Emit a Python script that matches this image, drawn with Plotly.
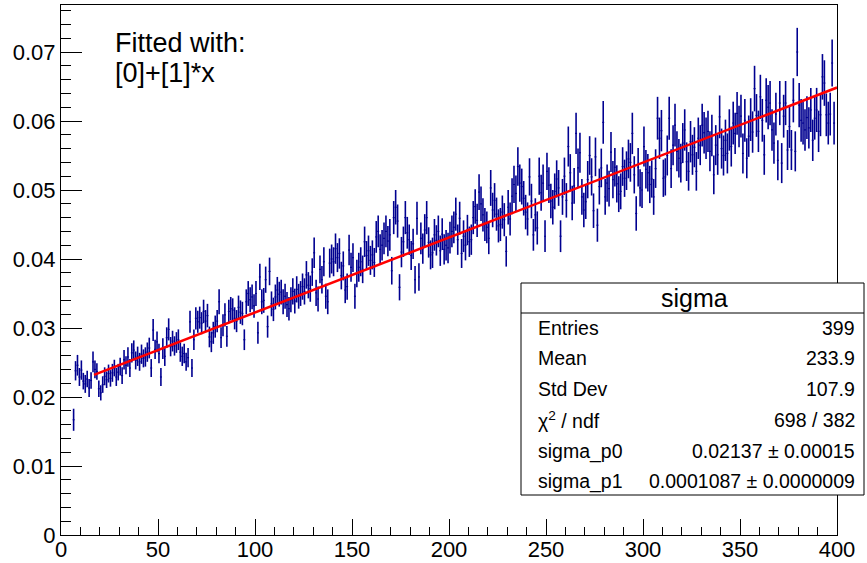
import plotly.graph_objects as go

# Bin contents of the "sigma" histogram (units of 1e-3), unit-width bins starting at [6, 7)
sigma_milli = [
    16.7, 23.8, 24.6, 22.9, 23.9, 22.3, 21.9, 22.6, 21.3, 22.4,
    25.1, 24.0, 23.7, 21.2, 20.6, 21.8, 23.0, 22.5, 23.4, 22.7,
    23.5, 24.2, 22.9, 23.6, 24.4, 23.1, 25.4, 24.6, 25.8, 24.2,
    26.4, 26.8, 25.3, 25.9, 25.1, 26.2, 25.6, 25.8, 26.5, 27.1,
    24.2, 29.7, 26.9, 28.0, 26.3, 22.9, 27.0, 25.9, 28.6, 29.8,
    27.3, 28.1, 27.4, 27.9, 28.3, 26.5, 25.9, 26.3, 25.1, 25.7,
    30.9, 24.2, 28.3, 31.4, 30.9, 31.5, 30.7, 32.4, 31.0, 31.8,
    28.7, 28.0, 29.3, 30.2, 31.0, 33.8, 28.6, 30.4, 31.9, 28.8,
    32.4, 32.8, 32.6, 31.4, 31.0, 33.0, 32.3, 32.1, 28.3, 33.8,
    35.0, 34.1, 34.5, 33.2, 35.0, 29.3, 37.4, 33.8, 34.0, 37.0,
    30.2, 38.2, 33.5, 32.7, 34.5, 35.5, 34.9, 35.2, 33.8, 34.6,
    33.4, 32.8, 34.1, 35.3, 33.9, 35.6, 34.6, 35.0, 36.0, 35.3,
    37.7, 36.2, 35.7, 38.1, 40.9, 35.1, 34.2, 38.5, 37.0, 39.6,
    34.6, 33.8, 39.4, 40.0, 39.6, 41.5, 40.2, 40.8, 37.6, 39.0,
    35.5, 36.0, 41.3, 38.8, 40.2, 34.6, 37.9, 38.8, 39.6, 38.5,
    42.5, 40.5, 41.2, 39.8, 40.6, 39.5, 43.2, 44.0, 41.4, 42.0,
    43.0, 44.0, 42.6, 43.5, 38.3, 46.0, 47.5, 45.5, 35.9, 41.0,
    42.5, 46.0, 43.8, 42.8, 40.5, 42.2, 37.0, 45.9, 37.4, 43.0,
    41.5, 44.2, 46.0, 42.4, 40.6, 40.9, 43.5, 42.7, 44.0, 41.2,
    43.6, 41.4, 42.0, 41.6, 43.1, 44.0, 44.6, 46.5, 42.8, 45.9,
    40.8, 43.3, 42.0, 44.2, 42.5, 42.8, 46.0, 47.6, 45.6, 49.7,
    48.0, 46.4, 45.0, 44.6, 43.0, 50.3, 47.1, 48.5, 46.5, 44.8,
    45.0, 46.8, 45.7, 41.1, 47.5, 45.8, 49.1, 50.8, 49.5, 53.4,
    51.0, 50.5, 48.8, 46.8, 45.8, 51.9, 48.4, 43.5, 46.4, 44.5,
    52.0, 49.6, 51.0, 43.3, 52.7, 50.7, 48.4, 47.5, 49.8, 51.6,
    50.3, 43.3, 49.0, 52.0, 48.5, 56.3, 52.5, 48.1, 50.6, 58.2,
    53.2, 55.4, 49.0, 47.1, 48.3, 51.5, 55.0, 51.9, 47.0, 54.8,
    44.9, 50.5, 53.2, 59.8, 49.0, 51.0, 50.2, 55.5, 51.5, 53.3,
    50.9, 49.4, 49.8, 53.4, 51.7, 52.8, 54.5, 54.0, 58.2, 52.2,
    46.6, 53.3, 50.3, 50.0, 56.3, 53.0, 52.5, 50.8, 51.6, 49.0,
    53.1, 60.4, 57.5, 58.6, 51.7, 51.9, 55.0, 60.4, 53.1, 56.5,
    59.4, 55.6, 54.6, 53.9, 56.8, 58.7, 54.1, 52.7, 57.0, 55.1,
    56.2, 52.7, 57.5, 56.5, 59.4, 58.3, 57.5, 58.5, 55.6, 57.9,
    52.2, 56.5, 55.1, 60.6, 56.0, 55.0, 57.2, 55.3, 58.7, 56.3,
    59.7, 58.2, 61.1, 59.2, 60.7, 55.3, 60.1, 54.6, 57.8, 60.2,
    58.4, 64.7, 60.8, 58.5, 63.5, 60.1, 55.1, 63.0, 62.0, 62.6,
    58.7, 56.8, 61.0, 54.3, 62.6, 53.9, 60.7, 62.6, 55.8, 59.2,
    55.8, 63.0, 55.6, 70.0, 62.3, 60.1, 59.7, 58.7, 60.5, 59.0,
    61.6, 57.2, 60.4, 61.6, 58.5, 60.9, 66.4, 65.5, 60.9, 59.7,
    61.0, 68.4, 59.7,
]

# Bin errors (units of 1e-4)
sigma_err_e4 = [
    16, 14, 15, 13, 14, 12, 13, 12, 13, 12,
    15, 13, 12, 12, 11, 12, 13, 12, 13, 12,
    13, 12, 13, 12, 13, 12, 14, 13, 14, 13,
    14, 14, 13, 14, 13, 14, 13, 14, 14, 15,
    13, 16, 14, 15, 14, 13, 15, 14, 15, 16,
    14, 15, 14, 15, 15, 14, 14, 14, 13, 14,
    16, 13, 15, 16, 16, 16, 16, 17, 16, 17,
    15, 15, 16, 16, 16, 18, 15, 16, 17, 15,
    17, 17, 17, 16, 16, 17, 17, 17, 15, 18,
    18, 18, 18, 17, 18, 16, 19, 18, 18, 19,
    16, 20, 18, 17, 18, 19, 18, 18, 18, 18,
    18, 17, 18, 19, 18, 19, 18, 18, 19, 19,
    20, 19, 19, 20, 22, 19, 18, 20, 20, 21,
    18, 18, 21, 21, 21, 22, 21, 22, 20, 21,
    19, 19, 22, 21, 21, 18, 20, 21, 21, 20,
    22, 21, 22, 21, 21, 21, 23, 23, 22, 22,
    23, 23, 22, 23, 20, 24, 25, 24, 19, 22,
    22, 24, 23, 22, 21, 22, 20, 24, 20, 23,
    22, 23, 24, 22, 21, 22, 23, 22, 23, 22,
    23, 22, 22, 22, 23, 23, 23, 24, 22, 24,
    21, 23, 22, 22, 22, 22, 24, 25, 24, 26,
    25, 24, 24, 23, 23, 26, 25, 25, 24, 24,
    24, 24, 24, 22, 25, 24, 26, 27, 26, 28,
    27, 26, 25, 25, 24, 27, 25, 23, 24, 24,
    27, 26, 27, 23, 27, 26, 25, 25, 26, 27,
    26, 23, 26, 27, 25, 29, 27, 25, 26, 30,
    28, 29, 26, 25, 25, 27, 28, 27, 25, 28,
    24, 26, 28, 31, 26, 27, 26, 29, 27, 28,
    27, 26, 26, 28, 27, 28, 28, 28, 30, 27,
    25, 28, 27, 26, 29, 28, 27, 27, 27, 26,
    28, 31, 30, 30, 27, 27, 29, 31, 28, 29,
    31, 29, 28, 28, 29, 30, 28, 28, 30, 29,
    29, 28, 30, 29, 31, 30, 30, 30, 29, 30,
    28, 29, 29, 31, 29, 29, 30, 29, 30, 29,
    31, 30, 31, 30, 31, 29, 31, 29, 30, 31,
    30, 33, 31, 30, 32, 31, 29, 32, 32, 32,
    30, 30, 31, 29, 32, 29, 31, 32, 29, 31,
    29, 32, 29, 35, 32, 31, 31, 30, 31, 30,
    32, 30, 31, 32, 30, 31, 33, 33, 31, 31,
    31, 34, 31,
]

first_bin = 6
bin_centers = [first_bin + i + 0.5 for i in range(len(sigma_milli))]
sigma_vals = [v * 1e-3 for v in sigma_milli]
sigma_errs = [e * 1e-4 for e in sigma_err_e4]

# Linear fit [0]+[1]*x
p0 = 0.02137
p1 = 0.0001087
fit_range = [17, 400]
fit_y = [p0 + p1 * x for x in fit_range]

# Axis tick labels
x_ticks = [0, 50, 100, 150, 200, 250, 300, 350, 400]
y_ticks = [0, 0.01, 0.02, 0.03, 0.04, 0.05, 0.06, 0.07]
y_tick_text = ["0", "0.01", "0.02", "0.03", "0.04", "0.05", "0.06", "0.07"]

# Statistics box contents
stat_title = "sigma"
stat_names = ["Entries", "Mean", "Std Dev", "χ<sup>2</sup> / ndf", "sigma_p0", "sigma_p1"]
stat_values = ["399", "233.9", "107.9", "698 / 382",
               "0.02137 ± 0.00015", "0.0001087 ± 0.0000009"]

W, H = 867, 563
L, R, T, B = 61, 837, 5, 535  # plot frame in pixels


def px(x):
    return (x - L) / (R - L)


def py(y):
    return (B - y) / (B - T)


navy = "#000090"
FONT = "Liberation Sans, Arial, Helvetica, sans-serif"
TICK_SIZE = 22

fig = go.Figure()
fig.add_trace(go.Scatter(
    x=bin_centers, y=sigma_vals, mode="markers",
    marker=dict(size=0.1, color=navy),
    error_y=dict(type="data", array=sigma_errs, visible=True,
                 color=navy, thickness=1.6, width=0),
    error_x=dict(type="constant", value=0.5, visible=True,
                 color=navy, thickness=1.2, width=0),
    hoverinfo="x+y",
))
fig.add_trace(go.Scatter(
    x=fit_range, y=fit_y, mode="lines",
    line=dict(color="#ff0000", width=2.5),
))

axis_common = dict(
    showline=True, linecolor="black", linewidth=1, mirror=True,
    showgrid=False, zeroline=False, ticks="inside", tickcolor="black",
    tickwidth=1, tickfont=dict(size=TICK_SIZE, color="black", family=FONT),
    automargin=False,
)

fig.update_xaxes(range=[0, 400], tickmode="array", tickvals=x_ticks,
                 ticktext=[str(v) for v in x_ticks], ticklen=16, ticklabelstandoff=-5,
                 minor=dict(ticks="inside", dtick=10, tick0=0, ticklen=8,
                            tickcolor="black"),
                 **axis_common)
fig.update_yaxes(range=[0, (B - T) / 6900], tickmode="array", tickvals=y_ticks,
                 ticktext=y_tick_text, ticklen=21,
                 minor=dict(ticks="inside", dtick=0.002, tick0=0, ticklen=10,
                            tickcolor="black"),
                 **axis_common)

annotations = [
    dict(x=px(113), y=py(43), text="Fitted with:", xanchor="left", yanchor="middle",
         font=dict(size=27)),
    dict(x=px(113), y=py(73), text="[0]+[1]*x", xanchor="left", yanchor="middle",
         font=dict(size=27)),
    dict(x=px(694), y=py(298), text=stat_title, xanchor="center", yanchor="middle",
         font=dict(size=25)),
]
row_y = [328, 358, 389, 420, 451, 481]
for name, val, yy in zip(stat_names, stat_values, row_y):
    annotations.append(dict(x=px(536), y=py(yy), text=name, xanchor="left",
                            yanchor="middle", font=dict(size=19.5)))
    annotations.append(dict(x=px(857), y=py(yy), text=val, xanchor="right",
                            yanchor="middle", font=dict(size=19.5)))
for a in annotations:
    a.update(xref="paper", yref="paper", showarrow=False)
    a["font"].update(family=FONT, color="black")

shapes = [
    dict(type="rect", xref="paper", yref="paper", x0=px(521), x1=px(864),
         y0=py(495), y1=py(283), line=dict(color="black", width=1), fillcolor="white",
         layer="above"),
    dict(type="line", xref="paper", yref="paper", x0=px(521), x1=px(864),
         y0=py(313), y1=py(313), line=dict(color="black", width=1), layer="above"),
]

fig.update_layout(
    width=W, height=H,
    margin=dict(l=L, r=W - R, t=T, b=H - B, pad=0),
    paper_bgcolor="white", plot_bgcolor="white",
    showlegend=False, font=dict(family=FONT, color="black"),
    annotations=annotations, shapes=shapes,
)

fig.write_html("out.html")
